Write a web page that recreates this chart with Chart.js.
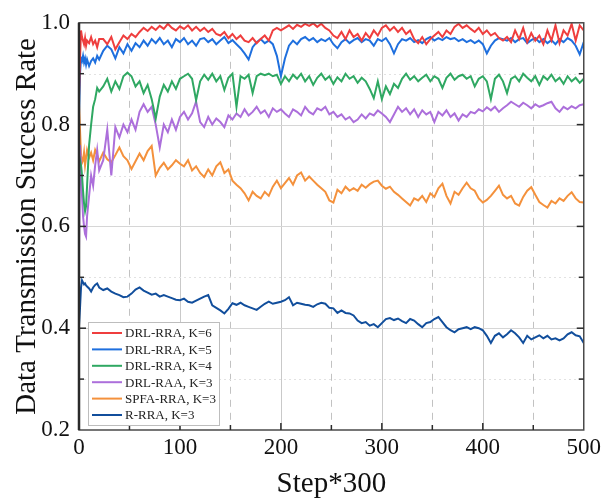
<!DOCTYPE html>
<html>
<head>
<meta charset="utf-8">
<script src="https://cdn.jsdelivr.net/npm/chart.js@4.4.1/dist/chart.umd.min.js"></script>
<style>
  html, body { margin: 0; padding: 0; background: #fff; }
  #wrap { width: 605px; height: 502px; }
</style>
</head>
<body>
<div id="wrap"><canvas id="c" width="605" height="502"></canvas></div>
<script>
// Training steps (x axis, in units of 300 environment steps)
const steps = [0, 1, 2, 3, 4, 5, 6, 7, 8, 10, 12, 14, 16, 18, 20];
for (let s = 24; s <= 500; s += 4) steps.push(s);

const seriesLabels = ['DRL-RRA, K=6', 'DRL-RRA, K=5', 'DRL-RRA, K=4', 'DRL-RAA, K=3', 'SPFA-RRA, K=3', 'R-RRA, K=3'];

const drlK6 = [
  0.855, 0.93, 0.985, 0.972, 0.965, 0.958, 0.97, 0.955, 0.965, 0.96, 0.972, 0.958, 0.965, 0.952, 0.968,
  0.968, 0.958, 0.972, 0.948, 0.962, 0.975, 0.968, 0.978, 0.972, 0.982, 0.99, 0.984, 0.992, 0.986, 0.994, 0.988, 0.998, 0.99, 0.985, 0.993,
  0.988, 0.995, 0.985, 0.992, 0.984, 0.99, 0.982, 0.988, 0.978, 0.975, 0.982, 0.97, 0.978, 0.968, 0.975, 0.965, 0.962, 0.97, 0.96, 0.968, 0.975, 0.965, 0.985, 0.99, 0.985,
  0.99, 0.995, 0.988, 0.996, 0.992, 0.998, 0.994, 0.999, 0.992, 0.998, 0.99, 0.985, 0.975, 0.97, 0.982, 0.968, 0.985, 0.972, 0.978, 0.965, 0.98, 0.97, 0.985, 0.975, 0.99,
  0.995, 0.985, 0.992, 0.982, 0.99, 0.978, 0.985, 0.968, 0.96, 0.972, 0.958, 0.968, 0.975, 0.982, 0.972, 0.985, 0.978, 0.992, 0.998, 0.99, 0.995, 0.988, 0.982, 0.99, 0.978,
  0.985, 0.975, 0.98, 0.97, 0.965, 0.972, 0.962, 0.985, 0.968, 0.99, 0.962, 0.98, 0.965, 0.975, 0.958, 0.985, 0.965, 0.995, 0.96, 0.985, 0.975, 0.998, 0.965, 0.995, 0.985
];

const drlK5 = [
  0.82, 0.90, 0.93, 0.925, 0.935, 0.922, 0.93, 0.918, 0.928, 0.915, 0.925, 0.93, 0.922, 0.935, 0.928,
  0.945, 0.955, 0.948, 0.93, 0.952, 0.94, 0.958, 0.945, 0.96, 0.952, 0.965, 0.955, 0.968, 0.96, 0.97, 0.958, 0.965, 0.952, 0.968, 0.962,
  0.97, 0.958, 0.965, 0.955, 0.968, 0.97, 0.962, 0.968, 0.958, 0.965, 0.972, 0.96, 0.966, 0.958, 0.95, 0.94, 0.928, 0.952, 0.962, 0.968, 0.96, 0.965, 0.958, 0.935, 0.895,
  0.93, 0.955, 0.965, 0.958, 0.968, 0.972, 0.965, 0.97, 0.962, 0.968, 0.964, 0.97, 0.958, 0.95, 0.962, 0.968, 0.96, 0.966, 0.97, 0.962, 0.968, 0.965, 0.955, 0.968, 0.964,
  0.97, 0.958, 0.94, 0.958, 0.968, 0.965, 0.97, 0.962, 0.966, 0.96, 0.968, 0.972, 0.965, 0.97, 0.966, 0.972, 0.968, 0.97, 0.964, 0.968, 0.962, 0.966, 0.96, 0.965, 0.958,
  0.94, 0.955, 0.965, 0.97, 0.968, 0.965, 0.97, 0.962, 0.968, 0.97, 0.96, 0.966, 0.97, 0.962, 0.968, 0.96, 0.966, 0.958, 0.968, 0.962, 0.97, 0.965, 0.955, 0.938, 0.962
];

const drlK4 = [
  0.74, 0.73, 0.72, 0.70, 0.67, 0.645, 0.63, 0.64, 0.68, 0.76, 0.80, 0.835, 0.85, 0.872, 0.865,
  0.875, 0.89, 0.865, 0.885, 0.87, 0.895, 0.902, 0.895, 0.875, 0.885, 0.862, 0.878, 0.85, 0.812, 0.855, 0.878, 0.865, 0.885, 0.87, 0.89,
  0.895, 0.9, 0.89, 0.848, 0.885, 0.898, 0.888, 0.9, 0.885, 0.895, 0.868, 0.892, 0.9, 0.835, 0.895, 0.89, 0.898, 0.862, 0.895, 0.9, 0.897, 0.9, 0.895, 0.898, 0.88,
  0.895, 0.885, 0.898, 0.89, 0.9, 0.885, 0.895, 0.878, 0.892, 0.9, 0.888, 0.895, 0.88, 0.893, 0.885, 0.9, 0.89, 0.895, 0.882, 0.892, 0.885, 0.87, 0.852, 0.885, 0.85,
  0.875, 0.86, 0.88, 0.872, 0.89, 0.9, 0.888, 0.895, 0.885, 0.892, 0.898, 0.885, 0.895, 0.89, 0.872, 0.892, 0.9, 0.888, 0.895, 0.898, 0.89, 0.895, 0.875, 0.89, 0.895,
  0.885, 0.85, 0.89, 0.898, 0.885, 0.862, 0.89, 0.895, 0.885, 0.9, 0.892, 0.885, 0.895, 0.878, 0.895, 0.888, 0.898, 0.885, 0.892, 0.88, 0.895, 0.885, 0.892, 0.882, 0.89
];

const drlRaaK3 = [
  0.545, 0.76, 0.72, 0.66, 0.62, 0.60, 0.585, 0.58, 0.62, 0.66, 0.70, 0.68, 0.72, 0.75, 0.71,
  0.73, 0.79, 0.70, 0.795, 0.775, 0.80, 0.785, 0.81, 0.79, 0.825, 0.84, 0.825, 0.835, 0.80, 0.755, 0.80, 0.785, 0.81, 0.79, 0.815,
  0.825, 0.81, 0.822, 0.845, 0.805, 0.795, 0.815, 0.80, 0.812, 0.805, 0.795, 0.818, 0.81, 0.822, 0.815, 0.83, 0.818, 0.825, 0.835, 0.822, 0.828, 0.815, 0.832, 0.825, 0.83,
  0.822, 0.815, 0.83, 0.825, 0.818, 0.835, 0.825, 0.82, 0.832, 0.828, 0.835, 0.82, 0.825, 0.815, 0.82, 0.81, 0.815, 0.805, 0.81, 0.82, 0.812, 0.822, 0.818, 0.828, 0.822,
  0.815, 0.805, 0.82, 0.835, 0.825, 0.832, 0.82, 0.83, 0.815, 0.828, 0.82, 0.825, 0.805, 0.825, 0.818, 0.828, 0.815, 0.822, 0.808, 0.82, 0.815, 0.825, 0.822, 0.83, 0.826,
  0.834, 0.828, 0.835, 0.825, 0.832, 0.838, 0.845, 0.84, 0.835, 0.843, 0.838, 0.832, 0.84, 0.835, 0.838, 0.842, 0.845, 0.832, 0.825, 0.835, 0.83, 0.836, 0.832, 0.838, 0.84
];

const spfaK3 = [
  0.84, 0.79, 0.74, 0.725, 0.73, 0.745, 0.72, 0.735, 0.75, 0.735, 0.745, 0.73, 0.75, 0.74, 0.728,
  0.745, 0.732, 0.726, 0.74, 0.755, 0.738, 0.73, 0.713, 0.728, 0.743, 0.73, 0.748, 0.758, 0.70, 0.715, 0.725, 0.712, 0.72, 0.73, 0.723,
  0.718, 0.73, 0.71, 0.718, 0.705, 0.697, 0.712, 0.70, 0.718, 0.726, 0.705, 0.712, 0.69, 0.682, 0.675, 0.665, 0.651, 0.668, 0.66, 0.655, 0.668, 0.66, 0.678, 0.69, 0.675,
  0.685, 0.695, 0.682, 0.70, 0.706, 0.69, 0.698, 0.69, 0.682, 0.675, 0.668, 0.651, 0.647, 0.672, 0.665, 0.678, 0.67, 0.675, 0.67, 0.682, 0.676, 0.683, 0.688, 0.69, 0.68,
  0.674, 0.678, 0.668, 0.662, 0.655, 0.648, 0.641, 0.655, 0.651, 0.66, 0.648, 0.665, 0.658, 0.675, 0.684, 0.66, 0.645, 0.668, 0.662, 0.675, 0.686, 0.675, 0.67, 0.655, 0.647,
  0.652, 0.66, 0.67, 0.68, 0.662, 0.655, 0.66, 0.645, 0.641, 0.658, 0.67, 0.677, 0.662, 0.648, 0.642, 0.637, 0.65, 0.645, 0.655, 0.65, 0.66, 0.667, 0.655, 0.648, 0.647
];

const randomK3 = [
  0.405, 0.44, 0.48, 0.494, 0.49, 0.486, 0.488, 0.484, 0.482, 0.478, 0.472, 0.48, 0.485, 0.488, 0.48,
  0.475, 0.478, 0.472, 0.468, 0.465, 0.461, 0.462, 0.468, 0.476, 0.48, 0.474, 0.47, 0.466, 0.468, 0.462, 0.465, 0.462, 0.459, 0.456, 0.455,
  0.458, 0.452, 0.45, 0.454, 0.458, 0.462, 0.465, 0.445, 0.44, 0.435, 0.429, 0.438, 0.449, 0.446, 0.45, 0.445, 0.442, 0.439, 0.436, 0.442, 0.448, 0.452, 0.448, 0.45, 0.452,
  0.455, 0.461, 0.445, 0.45, 0.448, 0.446, 0.445, 0.442, 0.447, 0.45, 0.448, 0.44, 0.439, 0.43, 0.435, 0.43, 0.429, 0.425, 0.415, 0.41, 0.412, 0.405, 0.408, 0.402, 0.41,
  0.418, 0.42, 0.416, 0.419, 0.414, 0.41, 0.418, 0.415, 0.408, 0.402, 0.41, 0.412, 0.418, 0.422, 0.412, 0.402, 0.396, 0.392, 0.398, 0.40, 0.402, 0.398, 0.402, 0.40, 0.396,
  0.385, 0.371, 0.385, 0.39, 0.382, 0.388, 0.396, 0.39, 0.382, 0.371, 0.385, 0.378, 0.382, 0.386, 0.38, 0.385, 0.378, 0.38, 0.376, 0.38, 0.388, 0.392, 0.386, 0.384, 0.371
];

const seriesValues = [drlK6, drlK5, drlK4, drlRaaK3, spfaK3, randomK3];
const seriesColors = ['#EF3E3E', '#1E6FDE', '#2FA862', '#AC6FDB', '#F4913C', '#114E9C'];

const xTickValues = [0, 100, 200, 300, 400, 500];
const yTickValues = [0.2, 0.4, 0.6, 0.8, 1.0];

const SERIF = '"Liberation Serif", "Times New Roman", serif';

const datasets = seriesValues.map((vals, k) => ({
  label: seriesLabels[k],
  data: steps.map((s, i) => ({ x: s, y: vals[i] })),
  borderColor: seriesColors[k],
  backgroundColor: seriesColors[k],
  borderWidth: 2,
  pointRadius: 0,
  tension: 0,
  fill: false
}));

// Grid lines, inward tick marks, frame and the in-plot legend
const framePlugin = {
  id: 'frame',
  beforeDatasetsDraw(chart) {
    const { ctx, chartArea: a, scales: { x, y } } = chart;
    ctx.save();
    ctx.lineWidth = 1;
    // vertical grid: solid at hundreds, dashed at fifties
    for (let v = 50; v < 500; v += 50) {
      const px = Math.round(x.getPixelForValue(v)) + 0.5;
      const major = v % 100 === 0;
      ctx.strokeStyle = major ? '#c9c9c9' : '#c2c2c2';
      ctx.setLineDash(major ? [] : [7, 6]);
      ctx.beginPath(); ctx.moveTo(px, a.top); ctx.lineTo(px, a.bottom); ctx.stroke();
    }
    // horizontal grid: solid at even tenths, dotted between
    for (let k = 3; k <= 9; k++) {
      const v = k / 10;
      const py = Math.round(y.getPixelForValue(v)) + 0.5;
      const major = k % 2 === 0;
      ctx.strokeStyle = major ? '#d6d6d6' : '#e2e2e2';
      ctx.setLineDash(major ? [] : [2, 3]);
      ctx.beginPath(); ctx.moveTo(a.left, py); ctx.lineTo(a.right, py); ctx.stroke();
    }
    ctx.restore();
  },
  afterDatasetsDraw(chart) {
    const { ctx, chartArea: a, scales: { x, y } } = chart;
    ctx.save();
    ctx.setLineDash([]);
    // frame
    ctx.strokeStyle = '#4a4a4a';
    ctx.lineWidth = 1.5;
    ctx.strokeRect(a.left, a.top, a.right - a.left, a.bottom - a.top);
    ctx.strokeStyle = '#2a2a2a';
    ctx.lineWidth = 2.5;
    ctx.beginPath(); ctx.moveTo(a.left, a.top); ctx.lineTo(a.left, a.bottom); ctx.stroke();
    // inward ticks
    ctx.lineWidth = 1.5;
    ctx.strokeStyle = '#2a2a2a';
    for (let v = 50; v < 500; v += 50) {
      const px = x.getPixelForValue(v);
      const len = v % 100 === 0 ? 7 : 5;
      ctx.beginPath(); ctx.moveTo(px, a.bottom); ctx.lineTo(px, a.bottom - len); ctx.stroke();
    }
    for (let k = 3; k <= 9; k++) {
      const py = y.getPixelForValue(k / 10);
      const len = k % 2 === 0 ? 7 : 5;
      ctx.beginPath(); ctx.moveTo(a.left, py); ctx.lineTo(a.left + len, py); ctx.stroke();
      ctx.beginPath(); ctx.moveTo(a.right, py); ctx.lineTo(a.right - len, py); ctx.stroke();
    }
    // legend
    const bx = a.left + 9, by = a.bottom - 108, bw = 131, bh = 103;
    ctx.fillStyle = '#ffffff';
    ctx.fillRect(bx, by, bw, bh);
    ctx.strokeStyle = '#bdbdbd';
    ctx.lineWidth = 1;
    ctx.strokeRect(bx + 0.5, by + 0.5, bw, bh);
    ctx.font = '13px ' + SERIF;
    ctx.textBaseline = 'middle';
    ctx.textAlign = 'left';
    chart.data.datasets.forEach((ds, i) => {
      const cy = by + 11 + i * 16.4;
      ctx.strokeStyle = ds.borderColor;
      ctx.lineWidth = 2;
      ctx.beginPath(); ctx.moveTo(bx + 4, cy); ctx.lineTo(bx + 34, cy); ctx.stroke();
      ctx.fillStyle = '#222';
      ctx.fillText(ds.label, bx + 37, cy + 1);
    });
    ctx.restore();
  }
};

new Chart(document.getElementById('c'), {
  type: 'line',
  data: { datasets },
  options: {
    responsive: false,
    animation: false,
    devicePixelRatio: 1,
    layout: { padding: { top: 22, right: 21, left: 0, bottom: 0 } },
    plugins: { legend: { display: false }, tooltip: { enabled: false } },
    scales: {
      x: {
        type: 'linear',
        min: 0,
        max: 500,
        afterBuildTicks: s => { s.ticks = xTickValues.map(v => ({ value: v })); },
        ticks: {
          font: { family: SERIF, size: 23 },
          color: '#111',
          padding: 4,
          maxRotation: 0,
          autoSkip: false,
          callback: v => String(v)
        },
        grid: { display: false, drawTicks: false },
        border: { display: false },
        title: {
          display: true,
          text: 'Step*300',
          font: { family: SERIF, size: 29 },
          color: '#111',
          padding: { top: 0, bottom: 0 }
        },
        afterFit: s => { s.height = 72; }
      },
      y: {
        type: 'linear',
        min: 0.2,
        max: 1.0,
        afterBuildTicks: s => { s.ticks = yTickValues.map(v => ({ value: v })); },
        ticks: {
          font: { family: SERIF, size: 23 },
          color: '#111',
          padding: 9,
          callback: v => Number(v).toFixed(1)
        },
        grid: { display: false, drawTicks: false },
        border: { display: false },
        title: {
          display: true,
          text: 'Data Transmission Success Rate',
          font: { family: SERIF, size: 29 },
          color: '#111',
          padding: { top: 10, bottom: 0 }
        },
        afterFit: s => { s.width = 79; }
      }
    }
  },
  plugins: [framePlugin]
});
</script>
</body>
</html>
